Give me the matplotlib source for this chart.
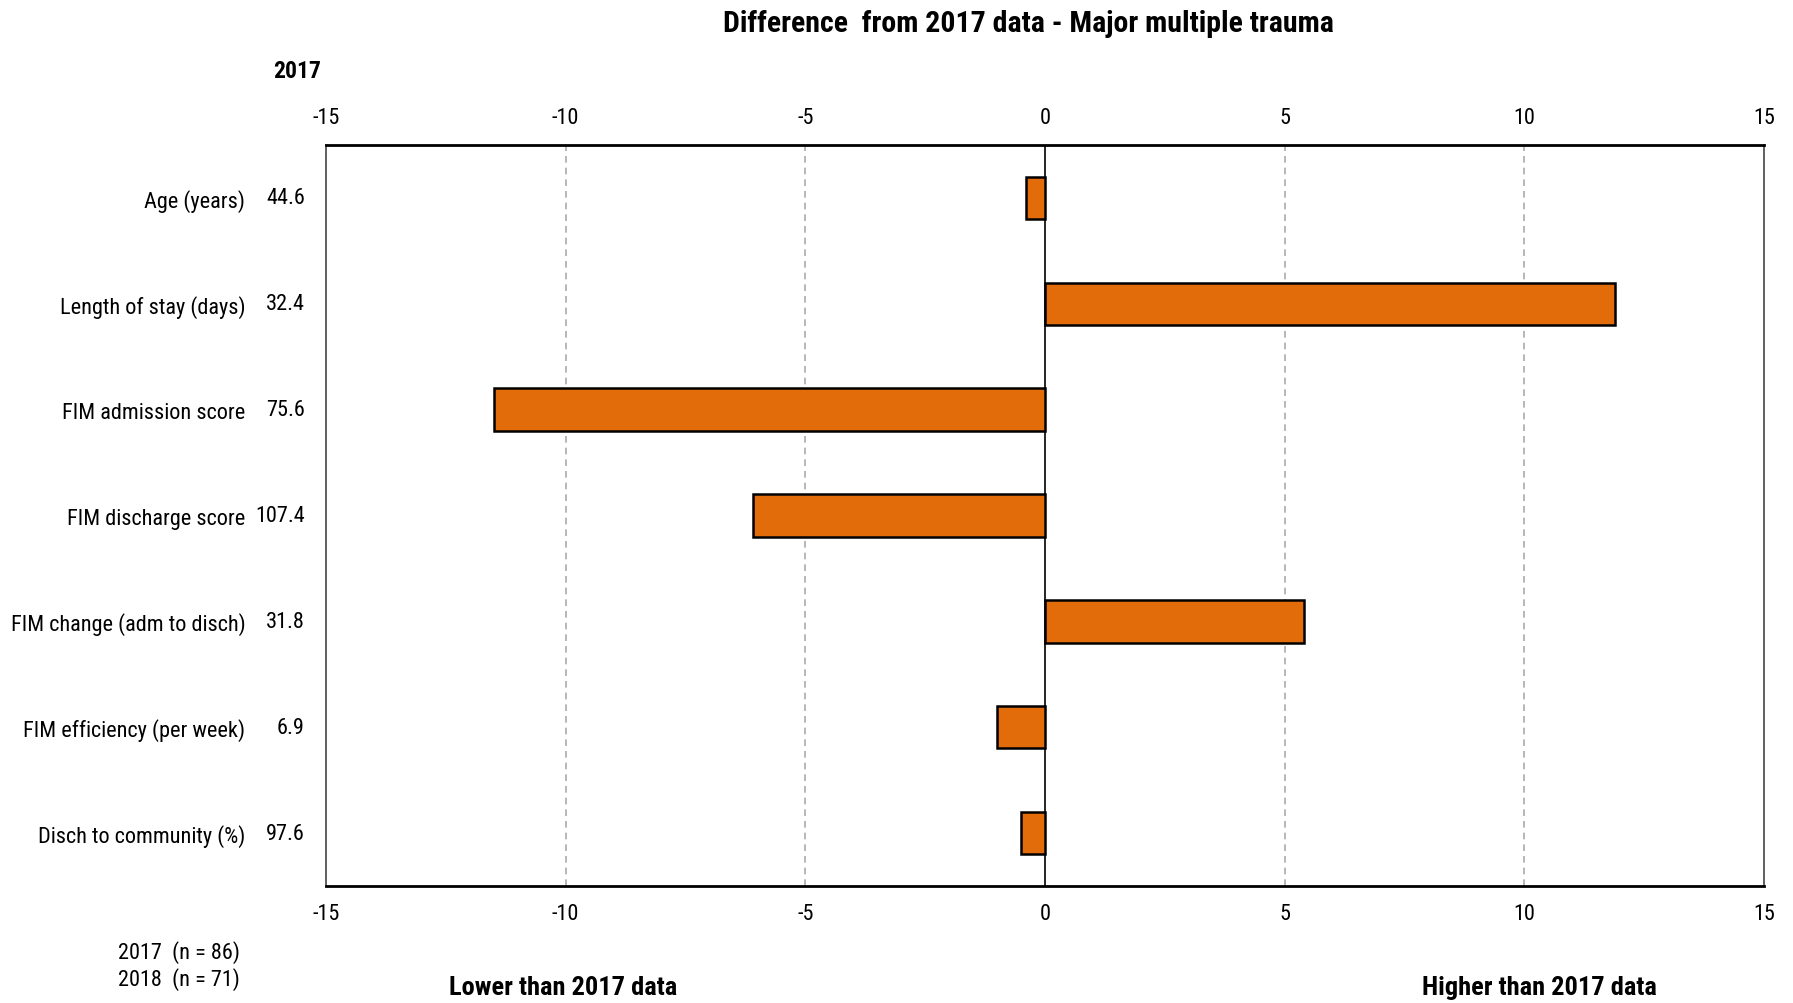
import matplotlib
matplotlib.use("Agg")
import matplotlib.pyplot as plt
from matplotlib import font_manager
import matplotlib.transforms as mtransforms

categories = ["Age (years)", "Length of stay (days)", "FIM admission score",
              "FIM discharge score", "FIM change (adm to disch)",
              "FIM efficiency (per week)", "Disch to community (%)"]
values_2017 = ["44.6", "32.4", "75.6", "107.4", "31.8", "6.9", "97.6"]
differences = [-0.4, 11.9, -11.5, -6.1, 5.4, -1.0, -0.5]
xticks = [-15, -10, -5, 0, 5, 10, 15]

names = {f.name for f in font_manager.fontManager.ttflist}
FONT = "Liberation Sans"
for cand in ["Liberation Sans Narrow", "Roboto Condensed", "Archivo Narrow", "PT Sans Narrow"]:
    if cand in names:
        FONT = cand
        break
plt.rcParams["font.family"] = [FONT, "DejaVu Sans"]

W, H = 1793, 1004
fig = plt.figure(figsize=(W / 100, H / 100), dpi=100)
ax = fig.add_axes([326 / W, 1 - 887 / H, (1764 - 326) / W, (887 - 146) / H])

ypos = list(range(len(categories)))
ax.barh(ypos, differences, height=0.4, color="#E36C0A", edgecolor="black",
        linewidth=1.8, zorder=3)

ax.set_xlim(-15, 15)
ax.set_ylim(len(categories) - 0.5, -0.5)
ax.set_xticks(xticks)
ax.set_xticklabels([str(t) for t in xticks])
for t in xticks:
    if t == 0:
        ax.axvline(0, color="black", lw=1.2, zorder=2)
    elif abs(t) != 15:
        ax.axvline(t, color="#aaaaaa", lw=1.2, ls=(0, (4, 3)), zorder=1)

ax.tick_params(axis="x", top=True, labeltop=True, bottom=True, labelbottom=True,
               length=0, pad=12, labelsize=16)
ax.set_yticks(ypos)
ax.set_yticklabels(categories)
ax.tick_params(axis="y", length=0, pad=58, labelsize=16)

for s in ["top", "bottom"]:
    ax.spines[s].set_linewidth(2)
    ax.spines[s].set_color("black")
for s in ["left", "right"]:
    ax.spines[s].set_linewidth(1.2)
    ax.spines[s].set_color("#444444")

trans = mtransforms.blended_transform_factory(ax.transAxes, ax.transData)
for y, v in zip(ypos, values_2017):
    ax.text(-21 / (1764 - 326), y, v, transform=trans, ha="right", va="center",
            fontsize=16)

fig.text(1028 / W, 1 - 24 / H, "Difference  from 2017 data - Major multiple trauma",
         ha="center", va="center", fontsize=21.5, fontweight="bold")
fig.text(297 / W, 1 - 71 / H, "2017", ha="center", va="center", fontsize=17,
         fontweight="bold")
fig.text(179 / W, 1 - 953 / H, "2017  (n = 86)", ha="center", va="center", fontsize=16)
fig.text(179 / W, 1 - 980 / H, "2018  (n = 71)", ha="center", va="center", fontsize=16)
fig.text(563 / W, 1 - 988 / H, "Lower than 2017 data", ha="center", va="center",
         fontsize=19, fontweight="bold")
fig.text(1539 / W, 1 - 988 / H, "Higher than 2017 data", ha="center", va="center",
         fontsize=19, fontweight="bold")

fig.savefig("out.png", dpi=100)
